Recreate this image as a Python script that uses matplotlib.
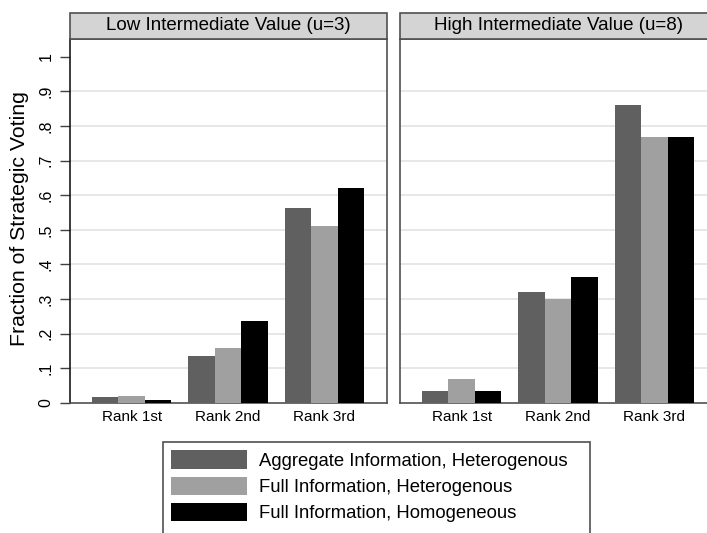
import matplotlib.pyplot as plt
from matplotlib.patches import Rectangle, Patch

# --- data ---
ranks = ["Rank 1st", "Rank 2nd", "Rank 3rd"]
series = [
    "Aggregate Information, Heterogenous",
    "Full Information, Heterogenous",
    "Full Information, Homogeneous",
]
panel_titles = ["Low Intermediate Value (u=3)", "High Intermediate Value (u=8)"]

low_agg_het = [0.017, 0.135, 0.563]
low_full_het = [0.021, 0.158, 0.512]
low_full_hom = [0.008, 0.237, 0.620]

high_agg_het = [0.035, 0.320, 0.860]
high_full_het = [0.068, 0.300, 0.767]
high_full_hom = [0.035, 0.364, 0.769]

yticks = [0, 0.1, 0.2, 0.3, 0.4, 0.5, 0.6, 0.7, 0.8, 0.9, 1.0]
ytick_labels = ["0", ".1", ".2", ".3", ".4", ".5", ".6", ".7", ".8", ".9", "1"]

colors = ["#606060", "#a0a0a0", "#000000"]
FONT = "Liberation Sans"
plt.rcParams["font.family"] = [FONT, "DejaVu Sans"]

W, H = 707, 533
fig = plt.figure(figsize=(W / 100, H / 100), dpi=100)


def fx(px):
    return px / W


def fy(py):
    return 1 - py / H


panels = [
    (70, [low_agg_het, low_full_het, low_full_hom]),
    (400, [high_agg_het, high_full_het, high_full_hom]),
]
ax_w, top, bottom = 317, 39, 403
bw = 0.275
x = range(len(ranks))

for i, (left, vals) in enumerate(panels):
    ax = fig.add_axes([fx(left), fy(bottom), ax_w / W, (bottom - top) / H])
    for j, v in enumerate(vals):
        ax.bar([k + (j - 1) * bw for k in x], v, width=bw, color=colors[j],
               linewidth=0, zorder=3)
    for g in yticks[1:-1]:
        ax.axhline(g, color="#e3e3e3", linewidth=1.2, zorder=1)
    ax.set_xlim(-0.64, 2.65)
    ax.set_ylim(0, 1.051)
    ax.set_xticks(list(x))
    ax.set_xticklabels(ranks, fontsize=11)
    ax.tick_params(axis="x", length=0, pad=5)
    ax.set_yticks(yticks)
    for s in ax.spines.values():
        s.set_color("#505050")
        s.set_linewidth(1.2)
    if i == 0:
        ax.set_yticklabels(ytick_labels, fontsize=11.5, rotation=90, va="center")
        ax.tick_params(axis="y", length=7, width=1, color="#404040", pad=5)
        ax.spines["left"].set_color("#1a1a1a")
    else:
        ax.tick_params(axis="y", length=0, labelleft=False)
    # strip title
    sh = 26 / (bottom - top)
    ax.add_patch(Rectangle((0, 1), 1, sh, transform=ax.transAxes,
                           facecolor="#d4d4d4", edgecolor="#505050",
                           linewidth=1.2, clip_on=False, zorder=5))
    ax.text(0.5, 1 + sh / 2, panel_titles[i], transform=ax.transAxes,
            ha="center", va="center", fontsize=13.5, zorder=6)

fig.text(fx(20), fy(219), "Fraction of Strategic Voting", rotation=90,
         ha="center", va="center", fontsize=15.3)

# legend box
fig.patches.append(Rectangle((fx(163), fy(545)), (590 - 163) / W, (545 - 442) / H,
                             transform=fig.transFigure, facecolor="white",
                             edgecolor="#505050", linewidth=1.2))
handles = [Patch(facecolor=c, edgecolor="none") for c in colors]
fig.legend(handles, series, loc="upper left",
           bbox_to_anchor=(fx(163), fy(442)), frameon=False, fontsize=13.3,
           handlelength=4.1, handleheight=1.14, labelspacing=0.37,
           borderpad=0.45, handletextpad=0.64, borderaxespad=0)

fig.savefig("out.png", dpi=100)
